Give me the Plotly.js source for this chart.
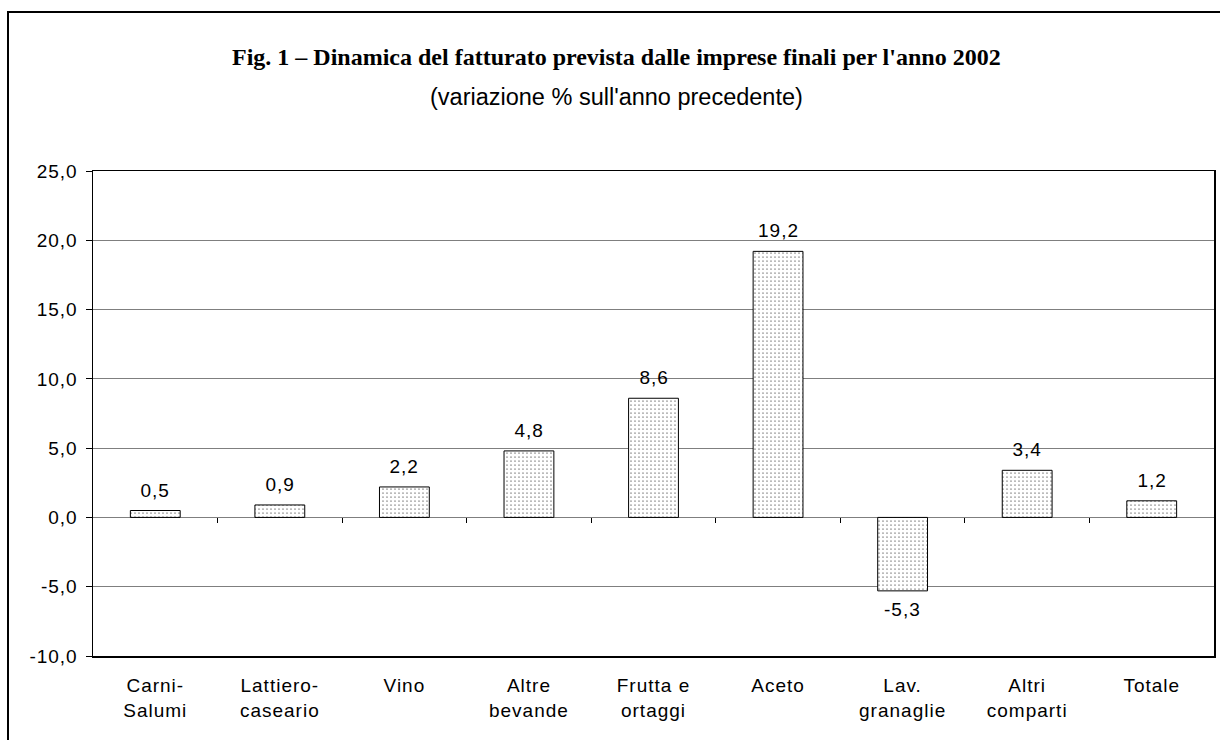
<!DOCTYPE html>
<html>
<head>
<meta charset="utf-8">
<script src="https://cdn.plot.ly/plotly-3.0.1.min.js"></script>
<style>
  html, body { margin: 0; padding: 0; background: #fff; }
  #frame { position: absolute; left: 7px; top: 11px; width: 1300px; height: 800px; border: 2px solid #000; }
  #chart { position: absolute; left: 0; top: 0; width: 1220px; height: 740px; }
  #chart .xtick text, #chart .ytick text { letter-spacing: 1px; }
</style>
</head>
<body>
<div id="frame"></div>
<div id="chart"></div>
<script>
const categories = ["Carni-<br>Salumi", "Lattiero-<br>caseario", "Vino", "Altre<br>bevande", "Frutta e<br>ortaggi", "Aceto", "Lav.<br>granaglie", "Altri<br>comparti", "Totale"];
const values = [0.5, 0.9, 2.2, 4.8, 8.6, 19.2, -5.3, 3.4, 1.2];
const yTicks = [-10, -5, 0, 5, 10, 15, 20, 25];
const titleText = "Fig. 1 – Dinamica del fatturato prevista dalle imprese finali per l'anno 2002";
const subtitleText = "(variazione % sull'anno precedente)";

const fmt = v => v.toFixed(1).replace('.', ',');
const idx = categories.map((_, i) => i);
const boundaries = idx.slice(0, -1).map(i => i + 0.5);

const traces = [
  {
    type: 'bar',
    x: idx,
    y: values,
    width: 0.4,
    marker: {
      color: '#ffffff',
      line: { color: '#000000', width: 1 },
      pattern: { shape: '.', fgcolor: '#000000', bgcolor: '#ffffff', size: 4, solidity: 0.07 }
    },
    hoverinfo: 'skip',
    showlegend: false
  },
  {
    type: 'scatter', mode: 'none', x: boundaries, y: boundaries.map(() => 0),
    xaxis: 'x2', yaxis: 'y', showlegend: false, hoverinfo: 'skip'
  }
];

const sans = 'Liberation Sans, Arial, sans-serif';
const labelFont = { family: sans, size: 19, color: '#000' };

const annotations = values.map((v, i) => ({
  x: i, y: v, xref: 'x', yref: 'y',
  text: fmt(v),
  showarrow: false,
  yanchor: v >= 0 ? 'bottom' : 'top',
  yshift: v >= 0 ? 8 : -6,
  font: labelFont
}));

annotations.push({
  xref: 'paper', yref: 'paper', x: 0.467, y: 1, yshift: 114, xanchor: 'center', yanchor: 'middle',
  text: '<b>' + titleText + '</b>', showarrow: false,
  font: { family: 'Liberation Serif, Times New Roman, serif', size: 24, color: '#000' }
});
annotations.push({
  xref: 'paper', yref: 'paper', x: 0.467, y: 1, yshift: 74, xanchor: 'center', yanchor: 'middle',
  text: subtitleText, showarrow: false,
  font: { family: sans, size: 23.5, color: '#000' }
});

const layout = {
  width: 1220, height: 740,
  margin: { l: 93, r: 6, t: 171, b: 84 },
  paper_bgcolor: 'rgba(0,0,0,0)',
  plot_bgcolor: '#ffffff',
  separators: ',.',
  showlegend: false,
  font: labelFont,
  xaxis: {
    type: 'linear',
    range: [-0.5, categories.length - 0.5],
    tickvals: idx, ticktext: categories,
    ticks: '', showgrid: false, zeroline: false,
    showline: true, linecolor: '#000', linewidth: 1.5, mirror: true,
    ticklabelstandoff: 12,
    tickfont: labelFont
  },
  xaxis2: {
    type: 'linear', overlaying: 'x', anchor: 'free', position: 10 / 35,
    range: [-0.5, categories.length - 0.5],
    tickvals: boundaries, ticks: 'outside', ticklen: 5, tickcolor: '#000', tickwidth: 1,
    showticklabels: false, showgrid: false, zeroline: false, showline: false
  },
  yaxis: {
    range: [-10, 25],
    tickvals: yTicks, ticktext: yTicks.map(fmt),
    ticks: 'outside', ticklen: 6, tickcolor: '#000', tickwidth: 1,
    showgrid: true, gridcolor: '#7f7f7f', gridwidth: 1.2,
    zeroline: true, zerolinecolor: '#7f7f7f', zerolinewidth: 1.5,
    showline: true, linecolor: '#000', linewidth: 1.5, mirror: true,
    ticklabelstandoff: 4,
    tickfont: labelFont
  },
  annotations: annotations
};

Plotly.newPlot('chart', traces, layout, { displayModeBar: false, staticPlot: true }).then(() => {
  const ann = document.querySelectorAll('#chart .annotation-text');
  ann.forEach((el, i) => { if (i < values.length) el.style.letterSpacing = '1px'; });
});
</script>
</body>
</html>
